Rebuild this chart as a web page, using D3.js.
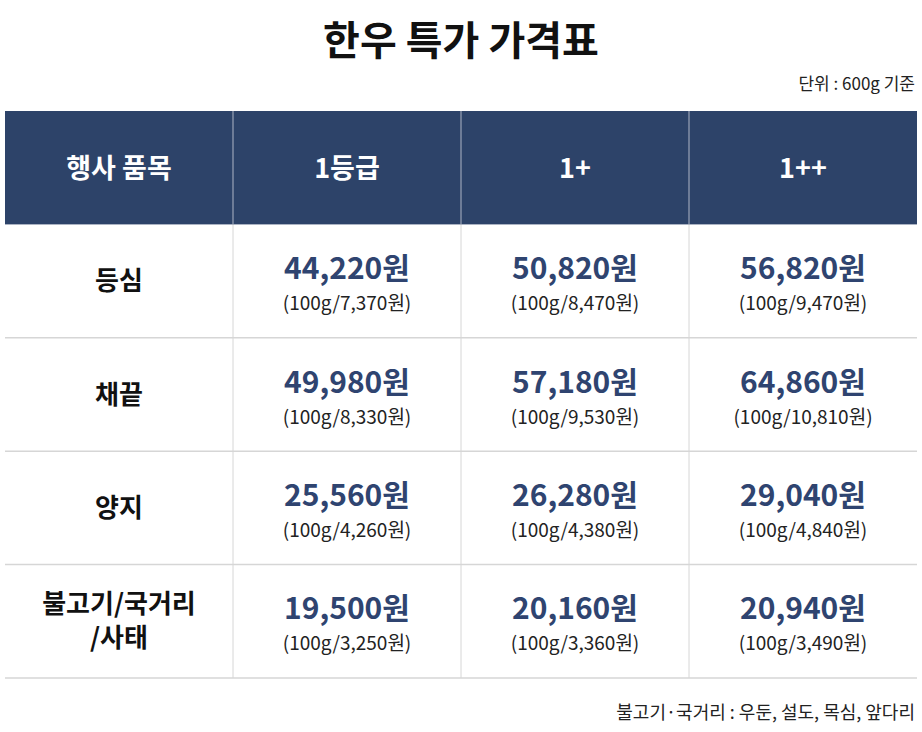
<!DOCTYPE html>
<html><head><meta charset="utf-8">
<script src="https://cdn.jsdelivr.net/npm/d3@7"></script>
<style>body{margin:0;background:#fff;font-family:"Noto Sans CJK KR","Noto Sans",sans-serif;}</style>
</head><body><div id="chart"></div>
<script>
var headers = ["행사 품목", "1등급", "1+", "1++"];
var items = [["등심"], ["채끝"], ["양지"], ["불고기/국거리", "/사태"]];
var prices = [
    ["44,220원", "50,820원", "56,820원"],
    ["49,980원", "57,180원", "64,860원"],
    ["25,560원", "26,280원", "29,040원"],
    ["19,500원", "20,160원", "20,940원"]
];
var per100 = [
    ["7,370원", "8,470원", "9,470원"],
    ["8,330원", "9,530원", "10,810원"],
    ["4,260원", "4,380원", "4,840원"],
    ["3,250원", "3,360원", "3,490원"]
];

var width = 922, height = 732;
var svg = d3.select("#chart").append("svg").attr("width", width).attr("height", height);

var x = d3.scaleBand().domain(d3.range(4)).range([5, 917]);
var y = d3.scaleBand().domain(d3.range(5)).range([111, 678]);

svg.append("text").attr("x", width / 2).attr("y", 55).attr("text-anchor", "middle")
    .attr("font-size", 40).attr("font-weight", 700).attr("fill", "#111").text("한우 특가 가격표");
svg.append("text").attr("x", 915).attr("y", 90).attr("text-anchor", "end")
    .attr("font-size", 17).attr("fill", "#222").text("단위 : 600g 기준");

// header
svg.append("rect").attr("x", 5).attr("y", y(0)).attr("width", 912).attr("height", y.bandwidth()).attr("fill", "#2d4369");
svg.selectAll(".hd").data(headers).enter().append("text")
    .attr("x", function(d, i) { return x(i) + x.bandwidth() / 2; })
    .attr("y", y(0) + y.bandwidth() / 2 + 10)
    .attr("text-anchor", "middle").attr("font-size", 27).attr("font-weight", 700).attr("fill", "#fff")
    .text(function(d) { return d; });

// grid
svg.selectAll(".vl").data([1, 2, 3]).enter().append("line")
    .attr("x1", function(d) { return x(d); }).attr("x2", function(d) { return x(d); })
    .attr("y1", y(0)).attr("y2", 678)
    .attr("stroke", function(d) { return "#d6d6d6"; }).attr("stroke-width", 1);
svg.selectAll(".vlh").data([1, 2, 3]).enter().append("line")
    .attr("x1", function(d) { return x(d); }).attr("x2", function(d) { return x(d); })
    .attr("y1", y(0)).attr("y2", y(1)).attr("stroke", "#5a6d8f");
svg.selectAll(".hl").data([2, 3, 4, 5]).enter().append("line")
    .attr("x1", 5).attr("x2", 917)
    .attr("y1", function(d) { return d < 5 ? y(d) : 678; }).attr("y2", function(d) { return d < 5 ? y(d) : 678; })
    .attr("stroke", "#d6d6d6").attr("stroke-width", 1.5);

items.forEach(function(lines, r) {
    var cy = y(r + 1) + y.bandwidth() / 2;
    lines.forEach(function(t, k) {
        svg.append("text").attr("x", x(0) + x.bandwidth() / 2)
            .attr("y", cy + 9 + (k - (lines.length - 1) / 2) * 34)
            .attr("text-anchor", "middle").attr("font-size", 26).attr("font-weight", 700).attr("fill", "#111").text(t);
    });
    prices[r].forEach(function(p, c) {
        var cx = x(c + 1) + x.bandwidth() / 2;
        svg.append("text").attr("x", cx).attr("y", cy - 2)
            .attr("text-anchor", "middle").attr("font-size", 30).attr("font-weight", 700).attr("fill", "#2f4470").text(p);
        svg.append("text").attr("x", cx).attr("y", cy + 29)
            .attr("text-anchor", "middle").attr("font-size", 19).attr("fill", "#222").text("(100g/" + per100[r][c] + ")");
    });
});

svg.append("text").attr("x", 915).attr("y", 719).attr("text-anchor", "end")
    .attr("font-size", 18).attr("fill", "#222").text("불고기·국거리 : 우둔, 설도, 목심, 앞다리");
</script></body></html>
